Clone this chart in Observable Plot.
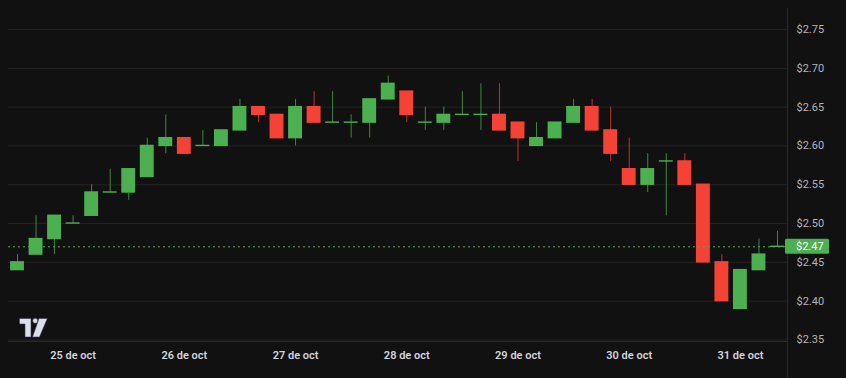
<!DOCTYPE html>
<html><head><meta charset="utf-8">
<script src="https://cdn.jsdelivr.net/npm/d3@7"></script>
<script src="https://cdn.jsdelivr.net/npm/@observablehq/plot@0.6"></script>
<style>
html,body{margin:0;padding:0;background:#111111;}
#chart{width:846px;height:378px;overflow:hidden;}
</style></head><body><div id="chart"></div>
<script>
// 4-hour candles
const times = [
  "2024-10-24T12:00Z","2024-10-24T16:00Z","2024-10-24T20:00Z",
  "2024-10-25T00:00Z","2024-10-25T04:00Z","2024-10-25T08:00Z","2024-10-25T12:00Z","2024-10-25T16:00Z","2024-10-25T20:00Z",
  "2024-10-26T00:00Z","2024-10-26T04:00Z","2024-10-26T08:00Z","2024-10-26T12:00Z","2024-10-26T16:00Z","2024-10-26T20:00Z",
  "2024-10-27T00:00Z","2024-10-27T04:00Z","2024-10-27T08:00Z","2024-10-27T12:00Z","2024-10-27T16:00Z","2024-10-27T20:00Z",
  "2024-10-28T00:00Z","2024-10-28T04:00Z","2024-10-28T08:00Z","2024-10-28T12:00Z","2024-10-28T16:00Z","2024-10-28T20:00Z",
  "2024-10-29T00:00Z","2024-10-29T04:00Z","2024-10-29T08:00Z","2024-10-29T12:00Z","2024-10-29T16:00Z","2024-10-29T20:00Z",
  "2024-10-30T00:00Z","2024-10-30T04:00Z","2024-10-30T08:00Z","2024-10-30T12:00Z","2024-10-30T16:00Z","2024-10-30T20:00Z",
  "2024-10-31T00:00Z","2024-10-31T04:00Z","2024-10-31T08:00Z"
];
const open  = [2.44,2.46,2.48, 2.50,2.51,2.54,2.54,2.56,2.60, 2.61,2.60,2.60,2.62,2.65,2.64, 2.61,2.65,2.63,2.63,2.63,2.66, 2.67,2.63,2.63,2.64,2.64,2.64, 2.63,2.60,2.61,2.63,2.65,2.62, 2.57,2.55,2.58,2.58,2.55,2.45, 2.39,2.44,2.47];
const high  = [2.46,2.51,2.51, 2.51,2.55,2.57,2.57,2.61,2.64, 2.61,2.62,2.62,2.66,2.65,2.64, 2.66,2.67,2.67,2.64,2.66,2.69, 2.67,2.65,2.65,2.67,2.68,2.68, 2.63,2.63,2.63,2.66,2.66,2.65, 2.61,2.59,2.59,2.59,2.55,2.46, 2.44,2.48,2.49];
const low   = [2.44,2.46,2.46, 2.50,2.51,2.54,2.53,2.56,2.59, 2.59,2.60,2.60,2.62,2.63,2.61, 2.60,2.63,2.63,2.61,2.61,2.66, 2.63,2.62,2.62,2.64,2.62,2.62, 2.58,2.60,2.61,2.63,2.62,2.58, 2.55,2.54,2.51,2.55,2.45,2.40, 2.39,2.44,2.47];
const close = [2.45,2.48,2.51, 2.50,2.54,2.54,2.57,2.60,2.61, 2.59,2.60,2.62,2.65,2.64,2.61, 2.65,2.63,2.63,2.63,2.66,2.68, 2.64,2.63,2.64,2.64,2.64,2.62, 2.61,2.61,2.63,2.65,2.62,2.59, 2.55,2.57,2.58,2.55,2.45,2.40, 2.44,2.46,2.47];
const yTicks = [2.35,2.40,2.45,2.50,2.55,2.60,2.65,2.70,2.75];
const dayTicks = ["2024-10-25","2024-10-26","2024-10-27","2024-10-28","2024-10-29","2024-10-30","2024-10-31"];
const dayLabels = ["25 de oct","26 de oct","27 de oct","28 de oct","29 de oct","30 de oct","31 de oct"];

const UP = "#4caf50", DOWN = "#f44336";
const H = 3600 * 1000;
const data = times.map((t, i) => ({
  date: new Date(t), open: open[i], high: high[i], low: low[i], close: close[i],
  up: close[i] >= open[i]
}));
const dayDates = dayTicks.map(d => new Date(d + "T00:00Z"));
const labelOf = d => dayLabels[dayDates.findIndex(x => +x === +d)];
const last = data[data.length - 1];

const plot = Plot.plot({
  width: 846, height: 378,
  marginLeft: 8, marginRight: 59, marginTop: 0, marginBottom: 37,
  style: {background: "#111111", color: "#b2b5be", fontFamily: "Roboto, 'Noto Sans', sans-serif", fontSize: "11px"},
  x: {type: "utc", domain: [data[0].date, last.date], range: [17, 777]},
  y: {domain: [2.348, 2.7874]},
  marks: [
    Plot.gridY(yTicks, {stroke: "#232323", strokeOpacity: 1}),
    Plot.ruleX(data, {x: "date", y1: "low", y2: "high", stroke: d => d.up ? UP : DOWN, strokeOpacity: 0.75, strokeWidth: 1}),
    Plot.rect(data, {
      x1: d => new Date(+d.date - 1.5 * H), x2: d => new Date(+d.date + 1.5 * H),
      y1: d => Math.min(d.open, d.close), y2: d => Math.max(d.open, d.close),
      fill: d => d.up ? UP : DOWN, insetTop: -0.7, insetBottom: -0.7
    }),
    Plot.ruleY([last.close], {stroke: UP, strokeDasharray: "2,3", strokeWidth: 1}),
    Plot.axisY(yTicks, {anchor: "right", tickSize: 0, tickPadding: 9, tickFormat: d => "$" + d.toFixed(2), fill: "#b2b5be", label: null}),
    Plot.axisX(dayDates, {anchor: "bottom", tickSize: 0, tickPadding: 10, tickFormat: labelOf, fill: "#d1d4dc", fontWeight: 600, label: null})
  ]
});
document.getElementById("chart").appendChild(plot);

const svg = d3.select(plot);
const ys = plot.scale("y");
const yb = ys.range[0];
// pane borders
svg.append("line").attr("x1", 787.5).attr("x2", 787.5).attr("y1", 8).attr("y2", 378).attr("stroke", "#2a2a2a");
svg.append("line").attr("x1", 8).attr("x2", 787).attr("y1", yb + 0.5).attr("y2", yb + 0.5).attr("stroke", "#2a2a2a");
// last price label
const yl = ys.apply(last.close);
svg.append("rect").attr("x", 785).attr("y", yl - 7.5).attr("width", 44).attr("height", 15).attr("rx", 1.5).attr("fill", UP);
svg.append("text").attr("x", 796).attr("y", yl).attr("dy", "0.35em").attr("fill", "#ffffff")
  .attr("text-anchor", "start")
  .attr("font-size", 11).attr("font-family", "Roboto, sans-serif").text("$" + last.close.toFixed(2));
// TradingView logo
const g = svg.append("g").attr("fill", "#dcdfe7").attr("stroke", "#3a3c50").attr("stroke-width", 0.6);
g.append("path").attr("d", "M19.5,318.5 H31 V337 H25 V324 H19.5 Z");
g.append("circle").attr("cx", 35.2).attr("cy", 320.8).attr("r", 2.5);
g.append("path").attr("d", "M39,318.5 H47.3 L39.5,337 H32.5 Z");
</script></body></html>
